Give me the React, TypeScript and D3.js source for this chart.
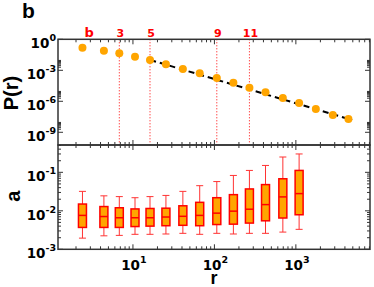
import React, {JSX} from "react";
import * as d3 from "d3";

// bin centres (r) and P(r)
const rBins = [2.4, 4.4, 6.8, 10.6, 16.2, 25.4, 41, 66, 107, 171, 269, 424, 692, 1096, 1758, 2844, 4416];
const pVals = [1.55e-1, 7.9e-2, 4.4e-2, 2.1e-2, 1.0e-2, 3.8e-3, 1.32e-3, 5.1e-4, 1.78e-4, 6.3e-5, 2.04e-5, 7.4e-6, 2.09e-6, 6.8e-7, 1.78e-7, 4.7e-8, 1.9e-8];

// power-law fit (dashed)
const fitR = [16.3, 4900];
const fitP = [1.0e-2, 1.55e-8];

// marked bins (red dotted lines) and the "b" mark
const markIdx = [2, 4, 8, 10];
const markLabels = ["3", "5", "9", "11"];
const bMarkR = 2.9;

// box plots of a per bin (first 14 bins)
const boxHigh = [0.032, 0.0245, 0.0234, 0.0219, 0.0234, 0.0251, 0.032, 0.045, 0.0575, 0.083, 0.112, 0.151, 0.25, 0.30];
const boxQ3 = [0.015, 0.0129, 0.012, 0.0112, 0.0115, 0.0117, 0.0135, 0.0166, 0.0219, 0.0263, 0.037, 0.048, 0.068, 0.112];
const boxMed = [0.0076, 0.0071, 0.0066, 0.0066, 0.0066, 0.0069, 0.0072, 0.0076, 0.0087, 0.0098, 0.011, 0.0145, 0.023, 0.028];
const boxQ1 = [0.0037, 0.0037, 0.0037, 0.0039, 0.004, 0.0041, 0.0042, 0.0041, 0.0044, 0.0045, 0.0048, 0.0055, 0.0065, 0.0079];
const boxLow = [0.00195, 0.00224, 0.0023, 0.00245, 0.00245, 0.0025, 0.0026, 0.00245, 0.0026, 0.0025, 0.0026, 0.0026, 0.0028, 0.0033];

const topExps = [0, -3, -6, -9];
const botExps = [-1, -2, -3];
const xExps = [1, 2, 3];

const W = 374, H = 287;
const left = 58, right = 370, top = 39.3, mid = 145, bottom = 249.3;
const axisCol = "#333";
const tickFont = "DejaVu Sans, sans-serif";
const titleFont = "Liberation Sans, Arial, sans-serif";

const App = (): JSX.Element => {
    const x = d3.scaleLog([Math.pow(10, 0.08), Math.pow(10, 3.91)], [left, right]);
    const yTop = d3.scaleLog([Math.pow(10, -10.23), 1], [mid, top]);
    const yBot = d3.scaleLog([1e-3, Math.pow(10, -0.29)], [bottom, mid]);

    const fitLine = d3.line<number>((d, i) => x(fitR[i]), d => yTop(d))(fitP) as string;

    // minor x ticks 2..9 per decade inside domain
    const xMinor: number[] = [];
    for (let e = 0; e <= 3; e++) for (let k = 2; k <= 9; k++) {
        const v = k * Math.pow(10, e);
        if (x(v) > left && x(v) < right) xMinor.push(v);
    }
    const xMajor = xExps.map(e => Math.pow(10, e));

    const topMinor: number[] = [];
    [-3, -6, -9].forEach(e => { for (let k = 2; k <= 9; k++) topMinor.push(k * Math.pow(10, e)); });
    const botMinor: number[] = [];
    for (let e = -3; e <= -1; e++) for (let k = 2; k <= 9; k++) {
        const v = k * Math.pow(10, e);
        if (yBot(v) > mid) botMinor.push(v);
    }

    const xTicks = (y0: number, y1: number, key: string) => (
        <g key={key} stroke={axisCol} strokeWidth={1}>
            {xMajor.map(v => <g key={v}>
                <line x1={x(v)} x2={x(v)} y1={y0} y2={y0 - 5}/>
                <line x1={x(v)} x2={x(v)} y1={y1} y2={y1 + 5}/>
            </g>)}
            {xMinor.map(v => <g key={v}>
                <line x1={x(v)} x2={x(v)} y1={y0} y2={y0 - 3}/>
                <line x1={x(v)} x2={x(v)} y1={y1} y2={y1 + 3}/>
            </g>)}
        </g>
    );

    const yTicks = (scale: d3.ScaleLogarithmic<number, number>, major: number[], minor: number[], key: string) => (
        <g key={key} stroke={axisCol} strokeWidth={1}>
            {major.map(v => <g key={v}>
                <line x1={left} x2={left + 5} y1={scale(v)} y2={scale(v)}/>
                <line x1={right} x2={right - 5} y1={scale(v)} y2={scale(v)}/>
            </g>)}
            {minor.map(v => <g key={v}>
                <line x1={left} x2={left + 3} y1={scale(v)} y2={scale(v)}/>
                <line x1={right} x2={right - 3} y1={scale(v)} y2={scale(v)}/>
            </g>)}
        </g>
    );

    const yLabel = (yy: number, e: number) => (
        <text key={e} x={56} y={yy + 9} textAnchor="end" fontFamily={tickFont} fontWeight="bold" fontSize={13.5}>
            10<tspan fontSize={9.5} dy={-7}>{e}</tspan>
        </text>
    );

    const bw = 8, cap = 7;

    return (
        <svg width={W} height={H} style={{position: "absolute", left: 0, top: 0}}>
            <rect width={W} height={H} fill="white"/>
            {/* panel letter */}
            <text x={22} y={18} fontFamily={titleFont} fontWeight="bold" fontSize={21}>b</text>

            {/* red marks */}
            <g stroke="red" strokeWidth={1} strokeDasharray="1,2">
                {markIdx.map(i => <line key={i} x1={x(rBins[i])} x2={x(rBins[i])} y1={top} y2={mid}/>)}
            </g>
            <g fill="red" fontFamily={tickFont} fontWeight="bold" fontSize={11} textAnchor="middle">
                <text x={x(bMarkR)} y={36.5} fontSize={13}>b</text>
                {markIdx.map((i, j) => <text key={i} x={x(rBins[i]) + 1} y={36.5}>{markLabels[j]}</text>)}
            </g>

            {/* top panel */}
            <path d={fitLine} fill="none" stroke="black" strokeWidth={2} strokeDasharray="6,4"/>
            <g fill="#FFA500">
                {pVals.map((p, i) => <circle key={i} cx={x(rBins[i])} cy={yTop(p)} r={4}/>)}
            </g>

            {/* bottom panel boxes */}
            {boxMed.map((m, i) => {
                const cx = x(rBins[i]);
                return <g key={i}>
                    <g stroke="#FF3333" strokeWidth={1}>
                        <line x1={cx} x2={cx} y1={yBot(boxHigh[i])} y2={yBot(boxQ3[i])}/>
                        <line x1={cx} x2={cx} y1={yBot(boxQ1[i])} y2={yBot(boxLow[i])}/>
                        <line x1={cx - cap / 2} x2={cx + cap / 2} y1={yBot(boxHigh[i])} y2={yBot(boxHigh[i])}/>
                        <line x1={cx - cap / 2} x2={cx + cap / 2} y1={yBot(boxLow[i])} y2={yBot(boxLow[i])}/>
                    </g>
                    <rect x={cx - bw / 2} y={yBot(boxQ3[i])} width={bw} height={yBot(boxQ1[i]) - yBot(boxQ3[i])}
                          fill="#FFA500" stroke="red" strokeWidth={1.5}/>
                    <line x1={cx - bw / 2} x2={cx + bw / 2} y1={yBot(m)} y2={yBot(m)} stroke="red" strokeWidth={1.5}/>
                </g>;
            })}

            {/* frames and ticks */}
            {xTicks(mid, top, "xt")}
            {xTicks(bottom, mid, "xb")}
            {yTicks(yTop, topExps.map(e => Math.pow(10, e)), topMinor, "yt")}
            {yTicks(yBot, botExps.map(e => Math.pow(10, e)), botMinor, "yb")}
            <rect x={left} y={top} width={right - left} height={mid - top} fill="none" stroke={axisCol} strokeWidth={1.5}/>
            <rect x={left} y={mid} width={right - left} height={bottom - mid} fill="none" stroke={axisCol} strokeWidth={1.5}/>

            {/* tick labels */}
            {topExps.map(e => yLabel(yTop(Math.pow(10, e)), e))}
            {botExps.map(e => yLabel(yBot(Math.pow(10, e)), e))}
            {xExps.map(e => (
                <text key={e} x={x(Math.pow(10, e)) + 1} y={270} textAnchor="middle" fontFamily={tickFont} fontWeight="bold" fontSize={13.5}>
                    10<tspan fontSize={9.5} dy={-7}>{e}</tspan>
                </text>
            ))}

            {/* axis titles */}
            <text transform={`translate(18,${(top + mid) / 2 + 1}) rotate(-90)`} textAnchor="middle"
                  fontFamily={titleFont} fontWeight="bold" fontSize={20}>P(r)</text>
            <text transform={`translate(20,${(mid + bottom) / 2 - 1}) rotate(-90)`} textAnchor="middle"
                  fontFamily={titleFont} fontWeight="bold" fontSize={20}>a</text>
            <text x={(left + right) / 2} y={284} textAnchor="middle" fontFamily={titleFont} fontWeight="bold" fontSize={18}>r</text>
        </svg>
    );
};

export default App;
